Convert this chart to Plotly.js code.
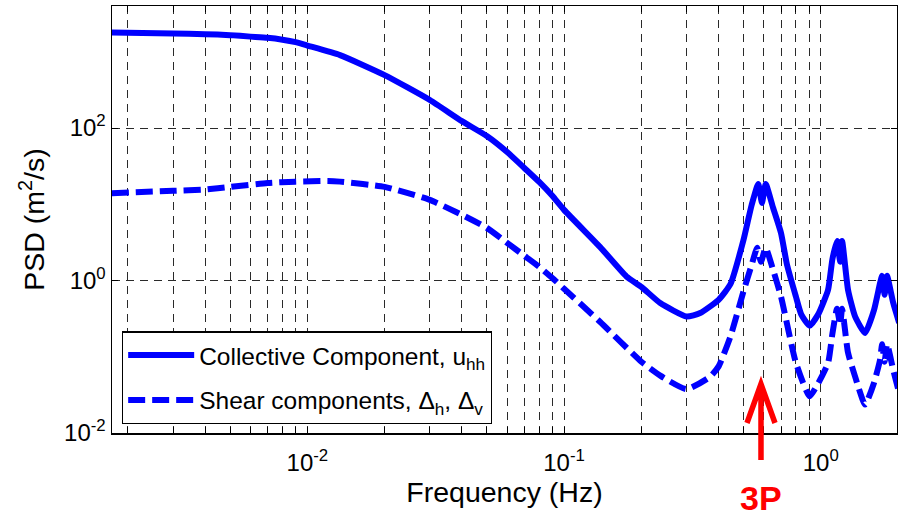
<!DOCTYPE html>
<html>
<head>
<meta charset="utf-8">
<script src="https://cdn.plot.ly/plotly-3.0.1.min.js"></script>
<style>
  html, body { margin: 0; padding: 0; background: #ffffff; }
  #chart { width: 898px; height: 516px; }
</style>
</head>
<body>
<div id="chart"></div>
<script>
// Power spectral density of the rotor-effective wind components (log-log)

// Collective component u_hh
const freqCollective = [0.00173, 0.003, 0.004, 0.005, 0.006, 0.007, 0.008, 0.009, 0.01, 0.0134,
  0.02, 0.03, 0.04, 0.05, 0.06, 0.07, 0.08, 0.09, 0.1, 0.138,
  0.175, 0.2, 0.237, 0.3, 0.339, 0.4, 0.445, 0.5, 0.538, 0.571,
  0.59, 0.61, 0.652, 0.7, 0.739, 0.8, 0.84, 0.905, 0.98, 1.068,
  1.11, 1.157, 1.19, 1.211, 1.277, 1.36, 1.488, 1.613, 1.702, 1.734,
  1.773, 1.813, 1.915, 2.02];
const psdCollective = [1790, 1738, 1702, 1652, 1579, 1525, 1440, 1335, 1205, 904,
  494, 233, 123, 78.6, 48.5, 29.9, 19.6, 12.9, 8.44, 2.76,
  1.13, 0.826, 0.506, 0.337, 0.374, 0.558, 0.9, 3.4, 9.8, 18.5,
  10.4, 18.5, 9.0, 4.2, 1.6, 0.616, 0.356, 0.255, 0.366, 0.755,
  1.9, 3.3, 1.76, 3.3, 0.755, 0.338, 0.205, 0.413, 0.925, 1.15,
  0.65, 1.15, 0.51, 0.279];

// Shear components Δh, Δv
const freqShear = [0.00173, 0.003, 0.004, 0.005, 0.007, 0.009, 0.012, 0.0134, 0.02, 0.03,
  0.04, 0.05, 0.06, 0.07, 0.08, 0.09, 0.1, 0.138, 0.2, 0.237,
  0.3, 0.371, 0.4, 0.445, 0.5, 0.538, 0.565, 0.585, 0.61, 0.652,
  0.7, 0.8, 0.905, 0.98, 1.068, 1.11, 1.157, 1.19, 1.211, 1.277,
  1.36, 1.488, 1.613, 1.702, 1.734, 1.773, 1.813, 1.915, 2.02];
const psdShear = [13.97, 15.0, 15.6, 16.9, 19.0, 19.8, 20.2, 19.8, 16.9, 11.4,
  7.26, 4.9, 3.12, 2.11, 1.51, 1.08, 0.778, 0.288, 0.0861, 0.0565,
  0.0376, 0.0548, 0.0748, 0.185, 0.72, 1.6, 2.68, 1.76, 2.68, 1.38,
  0.616, 0.0835, 0.0303, 0.0457, 0.0828, 0.2, 0.426, 0.263, 0.426, 0.113,
  0.0553, 0.0236, 0.0457, 0.0914, 0.146, 0.086, 0.146, 0.0676, 0.0335];

const seriesNames = ['Collective Component, u<sub>hh</sub>',
                     'Shear components, Δ<sub>h</sub>, Δ<sub>v</sub>'];

// Axis ticks
const xDecades = [0.001, 0.01, 0.1, 1];
const xDecadeLabels = ['10<sup>-3</sup>', '10<sup>-2</sup>', '10<sup>-1</sup>', '10<sup>0</sup>'];
const yTickVals = [0.01, 1, 100];
const yTickText = ['10<sup>-2</sup>', '10<sup>0</sup>', '10<sup>2</sup>'];

// Blade-passing (3P) frequency marker
const freq3P = 0.585;
const label3P = '3P';

// every 1..9 multiple of each decade gets a grid line; only decades are labelled
const xTickVals = [];
const xTickText = [];
xDecades.forEach((d, i) => {
  for (let m = 1; m <= 9; m++) {
    xTickVals.push(d * m);
    xTickText.push(m === 1 ? xDecadeLabels[i] : '');
  }
});

const BLUE = '#0000ff';
const FONT = 'Liberation Sans, Arial, Helvetica, sans-serif';

const traces = [
  {
    x: freqCollective, y: psdCollective, type: 'scatter', mode: 'lines',
    name: seriesNames[0], legendgroup: 'a',
    line: { color: BLUE, width: 6, shape: 'spline', smoothing: 0.5 }
  },
  {
    x: freqShear, y: psdShear, type: 'scatter', mode: 'lines',
    name: seriesNames[1], legendgroup: 'b',
    line: { color: BLUE, width: 6, dash: '17px,7px', shape: 'spline', smoothing: 0.5 }
  }
];

const gridStyle = { showgrid: true, gridcolor: '#2a2a2a', gridwidth: 1, griddash: '8px,6px' };

const layout = {
  width: 898, height: 516, autosize: false,
  margin: { l: 112, r: 1, t: 6, b: 83, pad: 0 },
  paper_bgcolor: '#ffffff', plot_bgcolor: '#ffffff',
  font: { family: FONT, color: '#000000', size: 24 },
  showlegend: true,
  xaxis: Object.assign({
    type: 'log', range: [-2.761, 0.297],
    tickmode: 'array', tickvals: xTickVals, ticktext: xTickText,
    ticks: 'inside', ticklen: 6, tickwidth: 1, tickcolor: '#000000',
    showline: true, linecolor: '#000000', linewidth: 1.5, mirror: 'ticks',
    zeroline: false, ticklabelstandoff: 8,
    tickfont: { size: 24 },
    title: { text: 'Frequency (Hz)', font: { size: 28.5 }, standoff: 5 }
  }, gridStyle),
  yaxis: Object.assign({
    type: 'log', range: [-2, 3.6],
    tickmode: 'array', tickvals: yTickVals, ticktext: yTickText,
    ticks: 'inside', ticklen: 6, tickwidth: 1, tickcolor: '#000000',
    showline: true, linecolor: '#000000', linewidth: 1.5, mirror: 'ticks',
    zeroline: false,
    tickfont: { size: 24 },
    title: { text: 'PSD (m<sup>2</sup>/s)', font: { size: 28.5 }, standoff: 11 }
  }, gridStyle),
  legend: {
    x: 0.0127, y: 0.02, xanchor: 'left', yanchor: 'bottom',
    bgcolor: '#ffffff', bordercolor: '#000000', borderwidth: 1.2,
    font: { size: 24.5, family: FONT }, itemwidth: 66,
    tracegroupgap: 10, traceorder: 'grouped'
  },
  shapes: [
    {
      type: 'path', layer: 'above',
      xref: 'x', xsizemode: 'pixel', xanchor: freq3P,
      yref: 'paper', ysizemode: 'pixel', yanchor: 0,
      path: 'M0,-27 L0,46 M-14,10 L0,49 L14,10',
      line: { color: '#ff0000', width: 5.5 }
    }
  ],
  annotations: [
    {
      xref: 'x', x: Math.log10(freq3P), yref: 'paper', y: -0.152,
      text: '<b>' + label3P + '</b>', showarrow: false,
      font: { family: FONT, size: 34, color: '#ff0000' },
      xanchor: 'center', yanchor: 'middle'
    }
  ]
};

Plotly.newPlot('chart', traces, layout, { staticPlot: true, displayModeBar: false });
</script>
</body>
</html>
